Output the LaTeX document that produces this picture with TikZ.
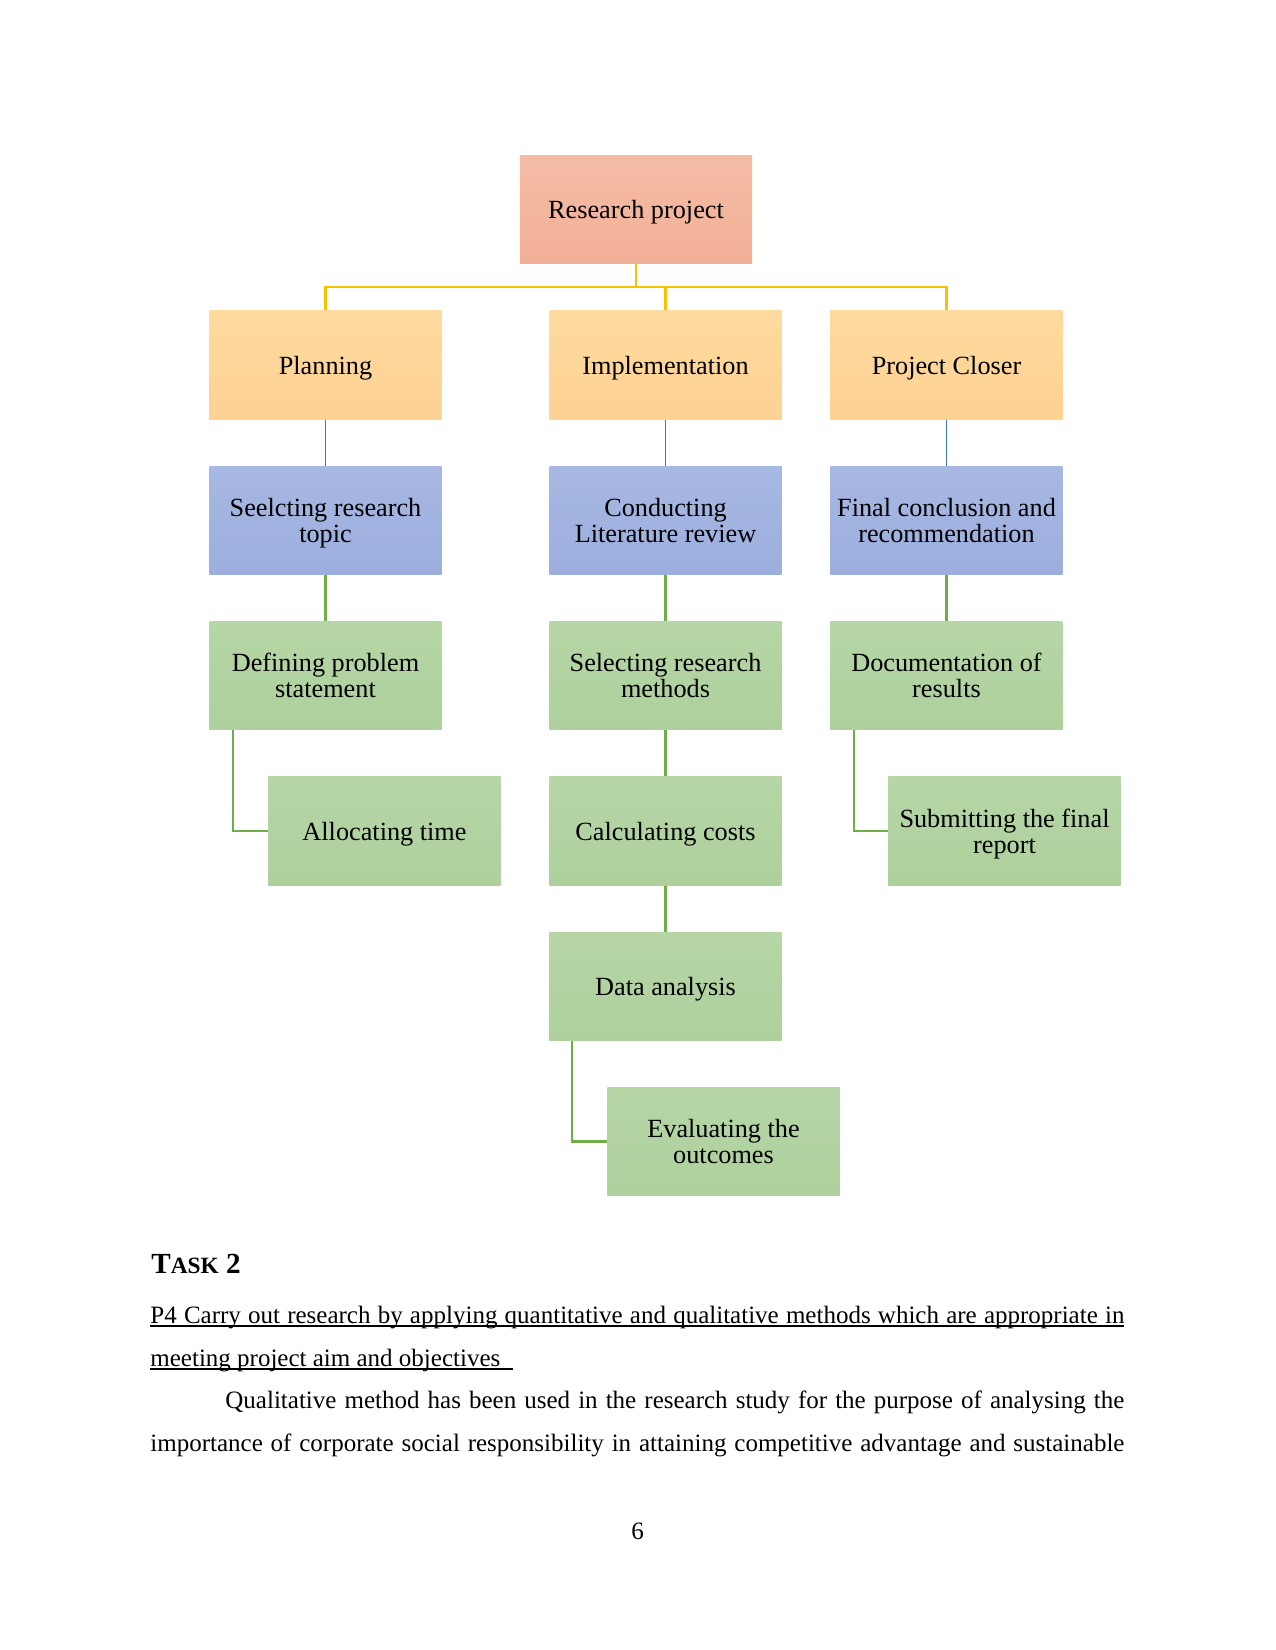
\documentclass[tikz,border=0pt]{standalone}
\usepackage{fontspec}
\setmainfont{Liberation Serif}
\definecolor{rptop}{HTML}{F5BDA6}
\definecolor{rpbot}{HTML}{F2AF96}
\definecolor{ytop}{HTML}{FFDA9E}
\definecolor{ybot}{HTML}{FDD293}
\definecolor{btop}{HTML}{A7B8E3}
\definecolor{bbot}{HTML}{9CAEDD}
\definecolor{gtop}{HTML}{B6D6A6}
\definecolor{gbot}{HTML}{ADD09C}
\definecolor{yline}{HTML}{F5C400}
\definecolor{bline}{HTML}{4472C4}
\definecolor{gline}{HTML}{70AD47}
\newcommand\myul[1]{\setbox0\hbox{#1}\rlap{\rule[-1.7pt]{\wd0}{0.65pt}}\box0}
\tikzset{
  box/.style={minimum width=111.4pt, minimum height=52.3pt, inner sep=0pt,
    align=center, text depth=0pt, font=\fontsize{12.6}{12.6}\selectfont},
  rpbox/.style={box, top color=rptop, bottom color=rpbot},
  ybox/.style={box, top color=ytop, bottom color=ybot},
  bbox/.style={box, top color=btop, bottom color=bbot},
  gbox/.style={box, top color=gtop, bottom color=gbot},
  yconn/.style={draw=yline, line width=1pt},
  bconn/.style={draw=bline, line width=0.9pt},
  gconn/.style={draw=gline, line width=1pt},
  bodytext/.style={anchor=base west, inner sep=0pt, font=\fontsize{12}{14}\selectfont},
}
\begin{document}
\begin{tikzpicture}[x=0.48pt, y=-0.48pt]
\useasboundingbox (0,0) rectangle (1275,1650);
\fill[white] (0,0) rectangle (1275,1650);

% boxes
\node[rpbox] (rp) at (636,209.5) {Research project};
\node[ybox] (plan) at (325.5,365) {Planning};
\node[ybox] (impl) at (665.5,365) {Implementation};
\node[ybox] (close) at (946.5,365) {Project Closer};
\node[bbox] (sel) at (325.5,520.5) {Seelcting research\\topic};
\node[bbox] (lit) at (665.5,520.5) {Conducting\\Literature review};
\node[bbox] (fin) at (946.5,520.5) {Final conclusion and\\recommendation};
\node[gbox] (def) at (325.5,675.5) {Defining problem\\statement};
\node[gbox] (meth) at (665.5,675.5) {Selecting research\\methods};
\node[gbox] (doc) at (946.5,675.5) {Documentation of\\results};
\node[gbox] (alloc) at (384.5,831) {Allocating time};
\node[gbox] (cost) at (665.5,831) {Calculating costs};
\node[gbox] (sub) at (1004.5,831) {Submitting the final\\report};
\node[gbox] (data) at (665.5,986.5) {Data analysis};
\node[gbox] (eval) at (723.5,1141.5) {Evaluating the\\outcomes};

% connectors
\draw[yconn] (rp.south) -- ++(0,22.5) -| (plan.north);
\draw[yconn] (rp.south) -- ++(0,22.5) -| (impl.north);
\draw[yconn] (rp.south) -- ++(0,22.5) -| (close.north);
\draw[bconn] (plan) -- (sel);
\draw[bconn] (impl) -- (lit);
\draw[bconn] (close) -- (fin);
\draw[gconn] (sel) -- (def);
\draw[gconn] (lit) -- (meth);
\draw[gconn] (fin) -- (doc);
\draw[gconn] (meth) -- (cost);
\draw[gconn] (cost) -- (data);
\draw[gconn] ([xshift=-44.5pt]def.south) |- (alloc.west);
\draw[gconn] ([xshift=-44.6pt]doc.south) |- (sub.west);
\draw[gconn] ([xshift=-45pt]data.south) |- (eval.west);

% text below
\node[anchor=base west, inner sep=0pt, font=\bfseries] (task) at (151,1273)
  {\fontsize{14}{16}\selectfont T\fontsize{11.2}{13}\selectfont ASK\fontsize{14}{16}\selectfont{} 2};
\node[bodytext] (p1) at (150,1323)
  {\myul{\makebox[467.5pt][s]{P4 Carry out research by applying quantitative and qualitative methods which are appropriate in}}};
\node[bodytext] (p2) at (150,1366)
  {\myul{meeting project aim and objectives\hspace{6pt}}};
\node[bodytext] (q1) at (225,1408)
  {\makebox[431.5pt][s]{Qualitative method has been used in the research study for the purpose of analysing the}};
\node[bodytext] (q2) at (150,1451)
  {\makebox[467.5pt][s]{importance of corporate social responsibility in attaining competitive advantage and sustainable}};
\node[anchor=base, inner sep=0pt, font=\fontsize{12}{14}\selectfont] (pg) at (637.5,1539) {6};
\end{tikzpicture}
\end{document}
